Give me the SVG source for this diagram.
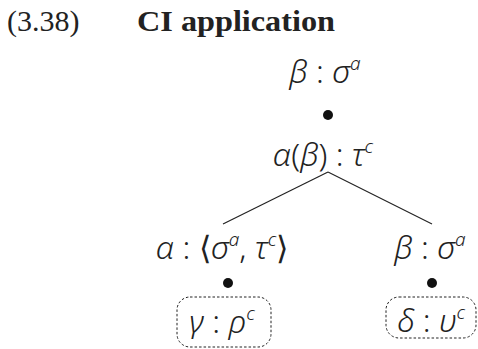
<svg xmlns="http://www.w3.org/2000/svg" width="478" height="349" viewBox="0 0 478 349">
<style>
.title{font-family:"Liberation Serif",serif;font-size:30px;fill:#222}
.bold{font-weight:bold}
.lbl{font-family:"Noto Sans","DejaVu Sans",sans-serif;font-style:italic;font-weight:300;font-size:32px;fill:#222;text-anchor:middle}
.up{font-style:normal}
.sup{font-size:19px}
.edge{stroke:#222;stroke-width:1.2;fill:none}
.dot{fill:#111}
.box{fill:none;stroke:#222;stroke-width:1;stroke-dasharray:2.5 2}
</style>
<rect width="478" height="349" fill="#fff"/>
<text class="title" x="7" y="31">(3.38)</text>
<text class="title bold" x="137" y="31" textLength="198" lengthAdjust="spacingAndGlyphs">CI application</text>
<g id="connectors">
<line class="edge" x1="328" y1="172" x2="223" y2="224"/>
<line class="edge" x1="328" y1="172" x2="432" y2="224"/>
</g>
<g id="n-top">
<text class="lbl" x="325" y="83">β<tspan class="up"> : </tspan>σ<tspan class="sup" dy="-13">a</tspan></text>
<circle class="dot" cx="328" cy="115" r="5"/>
</g>
<g id="n-root">
<text class="lbl" x="323" y="166">α<tspan class="up">(</tspan>β<tspan class="up">) : </tspan>τ<tspan class="sup" dy="-13">c</tspan></text>
</g>
<g id="n-left">
<text class="lbl" x="222" y="259">α<tspan class="up"> : ⟨</tspan>σ<tspan class="sup" dy="-13">a</tspan><tspan class="up" dy="13">, </tspan>τ<tspan class="sup" dy="-13">c</tspan><tspan class="up" dy="13">⟩</tspan></text>
<circle class="dot" cx="228" cy="283" r="5"/>
<rect class="box" x="177" y="297" width="94" height="50" rx="13"/>
<text class="lbl" x="222" y="333">γ<tspan class="up"> : </tspan>ρ<tspan class="sup" dy="-13">c</tspan></text>
<text class="lbl" x="430" y="259">β<tspan class="up"> : </tspan>σ<tspan class="sup" dy="-13">a</tspan></text>
</g>
<g id="n-right">
<circle class="dot" cx="432" cy="283" r="5"/>
<rect class="box" x="386" y="297" width="90" height="41" rx="13"/>
<text class="lbl" x="431" y="332">δ<tspan class="up"> : </tspan>υ<tspan class="sup" dy="-13">c</tspan></text>
</g>
</svg>
